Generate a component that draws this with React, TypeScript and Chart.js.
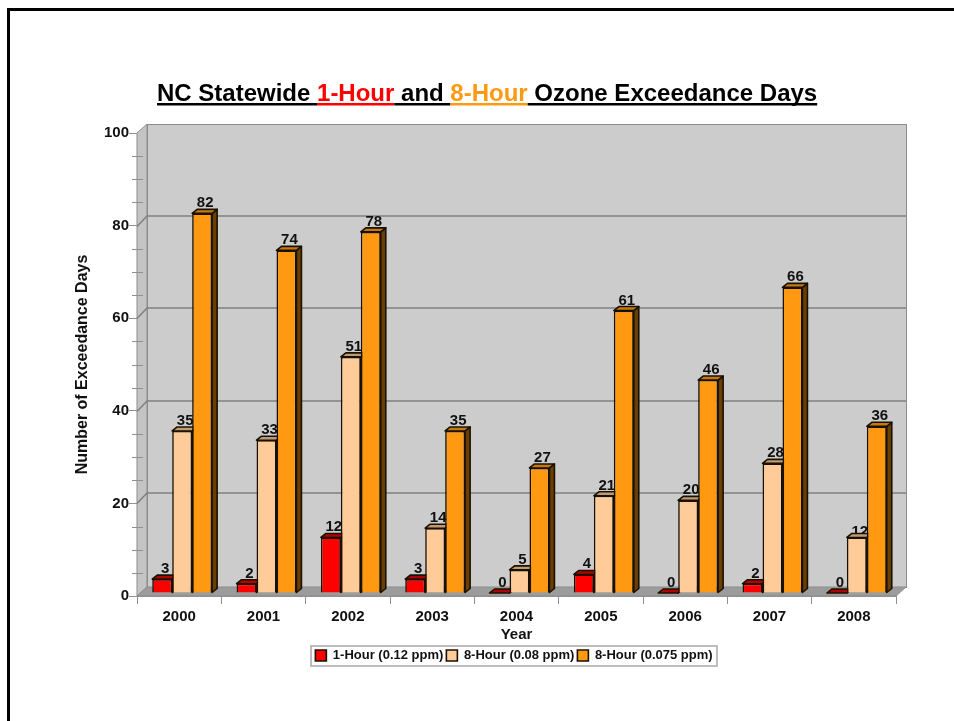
import React, { useEffect, useRef } from "react";
import { Chart, registerables } from "chart.js";

Chart.register(...registerables);

const years = ["2000", "2001", "2002", "2003", "2004", "2005", "2006", "2007", "2008"];
const oneHour = [3, 2, 12, 3, 0, 4, 0, 2, 0];
const eightHour008 = [35, 33, 51, 14, 5, 21, 20, 28, 12];
const eightHour0075 = [82, 74, 78, 35, 27, 61, 46, 66, 36];
const seriesNames = ["1-Hour (0.12 ppm)", "8-Hour (0.08 ppm)", "8-Hour (0.075 ppm)"];
const titleParts: [string, string][] = [
  ["NC Statewide ", "#000000"],
  ["1-Hour", "#ff0000"],
  [" and ", "#000000"],
  ["8-Hour", "#ff9912"],
  [" Ozone Exceedance Days", "#000000"],
];

const FONT = '"Liberation Sans", Arial, sans-serif';
const WALL_DX = 10;
const WALL_DY = 9;
const BAR_SHIFT = 3;
const faces = [
  { top: "#b00000", side: "#7a0000" },
  { top: "#c09a72", side: "#7c6040" },
  { top: "#c67a0c", side: "#6a4000" },
];

const scenery = {
  id: "scenery",
  afterLayout(chart: any) {
    const l = chart.legend;
    l.left = 311;
    l.right = 717;
    l.width = 406;
    l.top = 646;
    l.bottom = 666;
    l.height = 20;
  },
  beforeDraw(chart: any) {
    const { ctx, chartArea: a, scales } = chart;
    const y = scales.y;
    ctx.save();
    ctx.fillStyle = "#000";
    ctx.fillRect(7, 8, 947, 3);
    ctx.fillRect(7, 8, 3, 713);
    ctx.fillStyle = "#cccccc";
    ctx.strokeStyle = "#8c8c8c";
    ctx.lineWidth = 1;
    ctx.fillRect(a.left + WALL_DX, a.top - WALL_DY, a.width, a.height);
    ctx.strokeRect(a.left + WALL_DX + 0.5, a.top - WALL_DY + 0.5, a.width, a.height);
    ctx.fillStyle = "#c4c4c4";
    ctx.beginPath();
    ctx.moveTo(a.left, a.top);
    ctx.lineTo(a.left + WALL_DX, a.top - WALL_DY);
    ctx.lineTo(a.left + WALL_DX, a.bottom - WALL_DY);
    ctx.lineTo(a.left, a.bottom);
    ctx.closePath();
    ctx.fill();
    ctx.stroke();
    ctx.fillStyle = "#9c9c9c";
    ctx.beginPath();
    ctx.moveTo(a.left, a.bottom);
    ctx.lineTo(a.left + WALL_DX, a.bottom - WALL_DY);
    ctx.lineTo(a.right + WALL_DX, a.bottom - WALL_DY);
    ctx.lineTo(a.right, a.bottom);
    ctx.closePath();
    ctx.fill();
    ctx.stroke();
    y.ticks.forEach((t: any) => {
      const py = Math.round(y.getPixelForValue(t.value)) + 0.5;
      if (t.value % 20 === 0) {
        if (t.value === 0 || t.value === 100) return;
        ctx.strokeStyle = "#808080";
        ctx.lineWidth = 1.5;
        ctx.beginPath();
        ctx.moveTo(a.left, py);
        ctx.lineTo(a.left + WALL_DX, py - WALL_DY - 1.5);
        ctx.lineTo(a.right + WALL_DX, py - WALL_DY - 1.5);
        ctx.stroke();
      } else {
        ctx.strokeStyle = "#909090";
        ctx.lineWidth = 1;
        ctx.beginPath();
        ctx.moveTo(a.left - 5, py);
        ctx.lineTo(a.left + 6, py);
        ctx.stroke();
      }
    });
    const l = chart.legend;
    ctx.fillStyle = "#ffffff";
    ctx.strokeStyle = "#a8a8a8";
    ctx.lineWidth = 1.5;
    ctx.fillRect(l.left, l.top, l.width, l.height);
    ctx.strokeRect(l.left, l.top, l.width, l.height);
    ctx.font = `bold 24px ${FONT}`;
    ctx.textBaseline = "alphabetic";
    ctx.textAlign = "left";
    let x = 157;
    titleParts.forEach(([text, color]) => {
      const w = ctx.measureText(text).width;
      ctx.fillStyle = color;
      ctx.fillText(text, x, 101);
      ctx.fillRect(x, 103, w, 2.5);
      x += w;
    });
    ctx.restore();
  },
  // Series are painted from the first to the last in afterDatasetsDraw, so that
  // each one covers the side face and label of the one before it.
  beforeDatasetDraw() {
    return false;
  },
  afterDatasetsDraw(chart: any) {
    const { ctx } = chart;
    const dx = 5;
    const dy = 4;
    ctx.save();
    ctx.translate(BAR_SHIFT, -BAR_SHIFT);
    chart.data.datasets.forEach((ds: any, index: number) => {
      const meta = chart.getDatasetMeta(index);
      const face = faces[index];
      meta.controller.draw();
      meta.data.forEach((bar: any, i: number) => {
        const left = bar.x - bar.width / 2;
        const right = bar.x + bar.width / 2;
        // The last label of the middle series sits low, behind the bar's top face.
        const labelDrop = index === 1 && i === years.length - 1 ? 5 : 0;
        ctx.fillStyle = "#111";
        ctx.font = `bold 15px ${FONT}`;
        ctx.textAlign = "center";
        ctx.textBaseline = "alphabetic";
        ctx.fillText(String(ds.data[i]), bar.x + 3, bar.y - 6 + labelDrop);
        ctx.strokeStyle = "#1a1000";
        ctx.lineWidth = 1.6;
        ctx.lineJoin = "round";
        ctx.fillStyle = face.side;
        ctx.beginPath();
        ctx.moveTo(right, bar.y);
        ctx.lineTo(right + dx, bar.y - dy);
        ctx.lineTo(right + dx, bar.base - dy);
        ctx.lineTo(right, bar.base);
        ctx.closePath();
        ctx.fill();
        ctx.stroke();
        ctx.fillStyle = face.top;
        ctx.beginPath();
        ctx.moveTo(left, bar.y);
        ctx.lineTo(left + dx, bar.y - dy);
        ctx.lineTo(right + dx, bar.y - dy);
        ctx.lineTo(right, bar.y);
        ctx.closePath();
        ctx.fill();
        ctx.stroke();
      });
    });
    ctx.restore();
  },
};

export default function App() {
  const ref = useRef<HTMLCanvasElement>(null);
  useEffect(() => {
    const chart = new Chart(ref.current!, {
      type: "bar",
      data: {
        labels: years,
        datasets: [
          { label: seriesNames[0], data: oneHour, backgroundColor: "#ff0000" },
          { label: seriesNames[1], data: eightHour008, backgroundColor: "#ffcc99" },
          { label: seriesNames[2], data: eightHour0075, backgroundColor: "#ff9912" },
        ].map((d) => ({
          ...d,
          borderColor: "#1a1000",
          borderWidth: 1.6,
          categoryPercentage: 0.71,
          barPercentage: 1,
          clip: false,
        })) as any,
      },
      options: {
        responsive: false,
        animation: false,
        layout: { padding: { left: 70, top: 133, right: 58, bottom: 49 } },
        plugins: {
          tooltip: { enabled: false },
          title: { display: false },
          legend: {
            position: "bottom",
            labels: {
              color: "#111",
              font: { family: FONT, size: 13, weight: "bold" },
              boxWidth: 11,
              boxHeight: 11,
              padding: 3,
            },
          },
        },
        scales: {
          x: {
            afterFit: (s: any) => { s.height = 50; },
            grid: { display: true, drawOnChartArea: false, tickLength: 8, color: "#909090", offset: true },
            border: { display: true, color: "#909090" },
            ticks: { color: "#111", font: { family: FONT, size: 15, weight: "bold" }, padding: 4, maxRotation: 0 },
            title: { display: true, text: "Year", color: "#111", font: { family: FONT, size: 15, weight: "bold" }, padding: { top: 0, bottom: 2 } },
          },
          y: {
            min: 0,
            max: 100,
            afterFit: (s: any) => { s.width = 67; },
            grid: {
              display: true,
              drawOnChartArea: false,
              tickLength: 8,
              color: "#909090",
              tickColor: (c: any) => (c.tick && c.tick.value % 20 === 0 ? "#909090" : "rgba(0,0,0,0)"),
            },
            border: { display: false },
            ticks: {
              stepSize: 5,
              autoSkip: false,
              padding: 0,
              color: "#111",
              font: { family: FONT, size: 15, weight: "bold" },
              callback: (v: any) => (Number(v) % 20 === 0 ? String(v) : ""),
            },
            title: {
              display: true,
              text: "Number of Exceedance Days",
              color: "#111",
              font: { family: FONT, size: 16, weight: "bold" },
              padding: { top: 3, bottom: 0 },
            },
          },
        },
      },
      plugins: [scenery],
    } as any);
    return () => chart.destroy();
  }, []);
  return (
    <div style={{ position: "absolute", left: 0, top: 0, width: 954, height: 721, background: "#fff", overflow: "hidden" }}>
      <canvas ref={ref} width={954} height={721} style={{ display: "block" }} />
    </div>
  );
}
